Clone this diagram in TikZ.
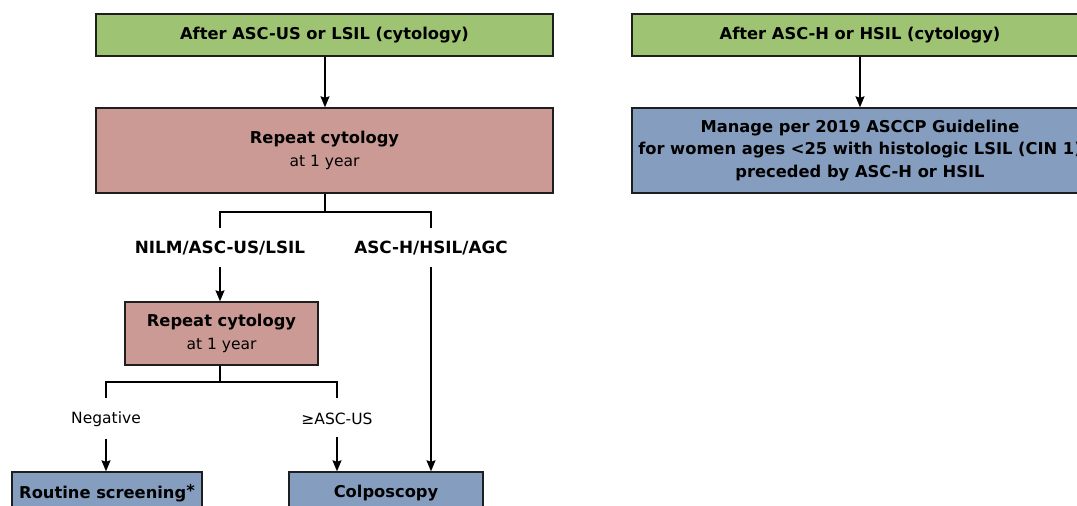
\documentclass[tikz,border=0pt]{standalone}
\usepackage{fontspec}
\setmainfont{DejaVu Sans}
\usetikzlibrary{arrows.meta}
\definecolor{gbox}{RGB}{157,195,115}
\definecolor{pbox}{RGB}{204,154,148}
\definecolor{bbox}{RGB}{133,158,191}
\definecolor{edge}{RGB}{30,30,30}
\tikzset{
  box/.style={draw=edge, line width=1.4pt, inner sep=0pt, align=center, font=\fontsize{15.5}{22.5}\selectfont},
  greenbox/.style={box, fill=gbox, font=\fontsize{16.3}{22.5}\selectfont\bfseries},
  pinkbox/.style={box, fill=pbox},
  bluebox/.style={box, fill=bbox, font=\fontsize{16.3}{22.5}\selectfont\bfseries},
  lbl/.style={inner sep=0pt, font=\fontsize{15.5}{18}\selectfont},
  blbl/.style={inner sep=0pt, font=\fontsize{16.8}{18}\selectfont\bfseries},
  conn/.style={draw=black, line width=1.3pt},
  arr/.style={conn, -{Stealth[length=11pt,width=9pt,inset=1.5pt]}},
}
\newcommand{\bt}[1]{{\fontsize{16.3}{22.5}\selectfont\bfseries #1}}
\begin{document}
\begin{tikzpicture}[x=1pt,y=-1pt]
\useasboundingbox (0,0) rectangle (1077,506);
\clip (0,0) rectangle (1077,506);
\fill[white] (0,0) rectangle (1077,506);
% left column
\node[greenbox, minimum width=457, minimum height=42] (g1) at (324.5,35) {After ASC-US or LSIL (cytology)};
\node[pinkbox, minimum width=457, minimum height=85] (p1) at (324.5,150.5) {\bt{Repeat cytology}\\at 1 year};
\coordinate (j1) at (325,212);
\coordinate (j1l) at (220,212);
\coordinate (j1r) at (431,212);
\coordinate (t1l) at (220,228);
\coordinate (t1r) at (431,228);
\node[blbl] (l1) at (220,248) {NILM/ASC-US/LSIL};
\node[blbl] (l2) at (431,248) {ASC-H/HSIL/AGC};
\node[pinkbox, minimum width=193, minimum height=63] (p2) at (221.5,333.5) {\bt{Repeat cytology}\\at 1 year};
\coordinate (j2) at (220,382);
\coordinate (j2l) at (106,382);
\coordinate (j2r) at (337,382);
\coordinate (t2l) at (106,398);
\coordinate (t2r) at (337,398);
\node[lbl] (n1) at (106,419) {Negative};
\node[lbl] (n2) at (337,419) {≥ASC-US};
\node[bluebox, minimum width=190, minimum height=42] (b1) at (107,493) {Routine screening\raisebox{2pt}{*}};
\node[bluebox, minimum width=194, minimum height=42] (b2) at (386,493) {Colposcopy};
% right column
\node[greenbox, minimum width=456, minimum height=42] (g2) at (860,35) {After ASC-H or HSIL (cytology)};
\node[bluebox, minimum width=456, minimum height=85] (b3) at (860,150.5) {Manage per 2019 ASCCP Guideline\\for women ages <25 with histologic LSIL (CIN 1)\\preceded by ASC-H or HSIL};
% connectors
\draw[arr] (g1.south -| j1) -- (p1.north -| j1);
\draw[conn] (p1.south -| j1) -- (j1);
\draw[conn] (t1l) -- (j1l) -- (j1r) -- (t1r);
\draw[arr] (l1.south) ++(0,12) coordinate (a1s) (a1s) -- (p2.north -| a1s);
\draw[conn] (p2.south -| j2) -- (j2);
\draw[conn] (t2l) -- (j2l) -- (j2r) -- (t2r);
\draw[arr] (n1.south) ++(0,12) coordinate (a2s) (a2s) -- (b1.north -| a2s);
\draw[arr] (n2.south) ++(0,12) coordinate (a3s) (a3s) -- (b2.north -| a3s);
\draw[arr] (l2.south) ++(0,12) coordinate (a4s) (a4s) -- (b2.north -| a4s);
\draw[arr] (g2) -- (b3);
\end{tikzpicture}
\end{document}
